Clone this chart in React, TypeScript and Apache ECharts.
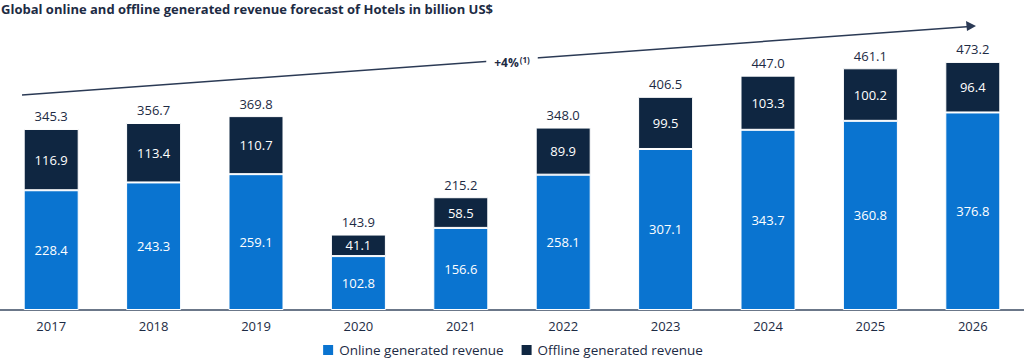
import React, { useEffect, useRef } from "react";
import * as echarts from "echarts";

const years = ["2017", "2018", "2019", "2020", "2021", "2022", "2023", "2024", "2025", "2026"];
const online = [228.4, 243.3, 259.1, 102.8, 156.6, 258.1, 307.1, 343.7, 360.8, 376.8];
const offline = [116.9, 113.4, 110.7, 41.1, 58.5, 89.9, 99.5, 103.3, 100.2, 96.4];
const totals = [345.3, 356.7, 369.8, 143.9, 215.2, 348.0, 406.5, 447.0, 461.1, 473.2];

const BLUE = "#0a74d0";
const NAVY = "#0f2641";
const TEXT = "#1d2b44";
const FONT = "'Open Sans', 'Noto Sans', sans-serif";

export default function App() {
  const ref = useRef<HTMLDivElement>(null);
  useEffect(() => {
    if (!ref.current) return;
    const chart = echarts.init(ref.current, undefined, { renderer: "svg" });
    chart.setOption({
      animation: false,
      textStyle: { fontFamily: FONT },
      title: {
        text: "Global online and offline generated revenue forecast of Hotels in billion US$",
        left: 1,
        top: 2,
        padding: 0,
        textStyle: { fontFamily: FONT, fontSize: 13, fontWeight: "bold", color: TEXT },
      },
      legend: {
        data: ["Online generated revenue", "Offline generated revenue"],
        top: 343,
        left: "center",
        padding: 0,
        itemWidth: 12,
        itemHeight: 12,
        itemGap: 16,
        icon: "rect",
        textStyle: { fontFamily: FONT, fontSize: 13.5, color: TEXT },
      },
      grid: { left: -1, right: -3, top: 40, bottom: 50 },
      xAxis: {
        type: "category",
        data: years,
        axisLine: { lineStyle: { color: "#3a4a62", width: 1.5 } },
        axisTick: { show: false },
        axisLabel: { color: TEXT, fontSize: 13, margin: 9, fontFamily: FONT },
      },
      yAxis: { type: "value", min: 0, max: 515, show: false, splitLine: { show: false } },
      graphic: [
        {
          type: "line",
          shape: { x1: 22, y1: 95, x2: 970, y2: 26.5 },
          style: { stroke: "#2b3a55", lineWidth: 1.5 },
          z: 10,
        },
        {
          type: "polygon",
          shape: { points: [[976, 26], [966, 21], [967, 31]] },
          style: { fill: "#2b3a55" },
          z: 10,
        },
        {
          type: "text",
          x: 512,
          y: 62,
          style: {
            text: "{a|+4%}{b|(1)}",
            align: "center",
            verticalAlign: "middle",
            backgroundColor: "#fff",
            padding: [2, 8],
            rich: {
              a: { fontFamily: FONT, fontSize: 12, fontWeight: "bold", fill: TEXT, color: TEXT },
              b: { fontFamily: FONT, fontSize: 8, fontWeight: "bold", fill: TEXT, color: TEXT, verticalAlign: "top", padding: [0, 0, 6, 1] },
            },
          },
          z: 11,
        },
      ],
      series: [
        {
          name: "Online generated revenue",
          type: "bar",
          stack: "a",
          barWidth: 55,
          data: online,
          itemStyle: { color: BLUE, borderColor: "#fff", borderWidth: 1 },
          label: {
            show: true,
            position: "inside",
            color: "#fff",
            fontSize: 13,
            fontFamily: FONT,
            formatter: (p: any) => p.value.toFixed(1),
          },
        },
        {
          name: "Offline generated revenue",
          type: "bar",
          stack: "a",
          barWidth: 55,
          data: offline,
          itemStyle: { color: NAVY, borderColor: "#fff", borderWidth: 1 },
          label: {
            show: true,
            position: "inside",
            color: "#fff",
            fontSize: 13,
            fontFamily: FONT,
            formatter: (p: any) => p.value.toFixed(1),
          },
        },
        {
          name: "Total",
          type: "bar",
          barWidth: 55,
          barGap: "-100%",
          data: totals,
          silent: true,
          itemStyle: { color: "rgba(0,0,0,0)" },
          label: {
            show: true,
            position: "top",
            distance: 6,
            color: TEXT,
            fontSize: 13,
            fontFamily: FONT,
            formatter: (p: any) => p.value.toFixed(1),
          },
          z: 1,
        },
      ],
    });
    return () => chart.dispose();
  }, []);
  return (
    <div
      ref={ref}
      style={{ position: "absolute", left: 0, top: 0, width: 1024, height: 360 }}
    />
  );
}
